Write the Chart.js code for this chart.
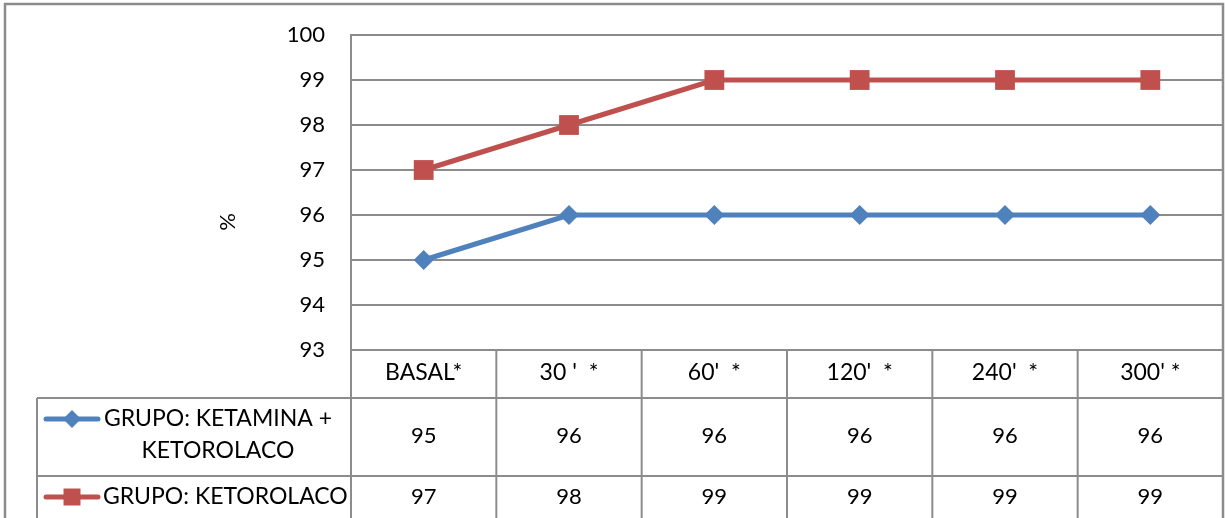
<!DOCTYPE html>
<html>
<head>
<meta charset="utf-8">
<script src="https://cdn.jsdelivr.net/npm/chart.js@4.4.0/dist/chart.umd.min.js"></script>
<style>
  html, body { margin: 0; padding: 0; background: #fff; }
  #wrap { width: 1225px; height: 518px; }
</style>
</head>
<body>
<div id="wrap"><canvas id="c" width="1225" height="518"></canvas></div>
<script>
// Saturación de oxígeno (%) por grupo y tiempo
const categories = ["BASAL*", "30 '  *", "60'  *", "120'  *", "240'  *", "300' *"];
const ketaminaKetorolaco = [95, 96, 96, 96, 96, 96];
const ketorolaco = [97, 98, 99, 99, 99, 99];
const seriesNames = ["GRUPO: KETAMINA + KETOROLACO", "GRUPO: KETOROLACO"];
const yMin = 93;
const yMax = 100;
const yTitle = "%";

const GRID = "#8c8c8c";
const BLUE = "#4F81BD";
const RED = "#C0504D";
const FONT = "22px Lato";
const LABEL_FONT = "23px Lato";

Chart.defaults.font.family = "Lato";
Chart.defaults.font.size = 22;
Chart.defaults.color = "#000";

// Frame, axis title and the data table under the plot
const tablePlugin = {
  id: "dataTable",
  beforeDraw(chart) {
    const ctx = chart.ctx;
    ctx.save();
    ctx.fillStyle = "#fff";
    ctx.fillRect(0, 0, chart.width, chart.height);
    ctx.restore();
  },
  afterDraw(chart) {
    const ctx = chart.ctx;
    const area = chart.chartArea;
    const xs = chart.scales.x;
    const step = xs.getPixelForValue(1) - xs.getPixelForValue(0);
    const headTop = area.bottom;
    const headBot = headTop + 48;
    const rowTops = [headBot, headBot + 78];
    const rowBots = [headBot + 78, headBot + 126];
    const tableLeft = 37;

    ctx.save();
    // outer frame
    ctx.strokeStyle = GRID;
    ctx.lineWidth = 2.5;
    ctx.beginPath();
    ctx.moveTo(5, chart.height + 5);
    ctx.lineTo(5, 4);
    ctx.lineTo(1223, 4);
    ctx.lineTo(1223, chart.height + 5);
    ctx.stroke();

    // table grid
    ctx.lineWidth = 2;
    ctx.beginPath();
    rowTops.forEach(y => { ctx.moveTo(tableLeft, y); ctx.lineTo(area.right, y); });
    ctx.moveTo(tableLeft, headBot); ctx.lineTo(tableLeft, chart.height);
    ctx.moveTo(area.left, headTop); ctx.lineTo(area.left, chart.height);
    for (let i = 1; i < categories.length; i++) {
      const x = xs.getPixelForValue(i) - step / 2;
      ctx.moveTo(x, headTop); ctx.lineTo(x, chart.height);
    }
    ctx.stroke();

    // header labels
    ctx.fillStyle = "#000";
    ctx.font = LABEL_FONT;
    ctx.textAlign = "center";
    ctx.textBaseline = "middle";
    categories.forEach((c, i) => {
      ctx.fillText(c, xs.getPixelForValue(i), (headTop + headBot) / 2 - 1);
    });

    // rows: legend key, name and values
    chart.data.datasets.forEach((ds, r) => {
      const top = rowTops[r];
      const bot = rowBots[r];
      ctx.font = LABEL_FONT;
      const lines = wrapText(ctx, seriesNames[r], 245);
      const lh = 32;
      const firstY = top + 21;
      ctx.fillStyle = "#000";
      ctx.textAlign = "left";
      lines.forEach((ln, k) => {
        const w = ctx.measureText(ln).width;
        const x0 = Math.max(103, 218 - w / 2);
        ctx.fillText(ln, x0, firstY + k * lh);
      });
      ctx.textAlign = "center";

      // key
      ctx.strokeStyle = ds.borderColor;
      ctx.lineWidth = 5;
      ctx.lineCap = "round";
      ctx.beginPath();
      ctx.moveTo(46, firstY);
      ctx.lineTo(98, firstY);
      ctx.stroke();
      ctx.fillStyle = ds.backgroundColor;
      Chart.helpers.drawPoint(ctx, { pointStyle: ds.pointStyle, radius: ds.pointStyle === "rect" ? 12 : 9, rotation: 0, borderWidth: 0 }, 72, firstY);

      // values
      ctx.font = FONT;
      ctx.fillStyle = "#000";
      const cy = r === 0 ? (top + bot) / 2 - 1 : firstY;
      ds.data.forEach((v, i) => ctx.fillText(String(v), xs.getPixelForValue(i), cy));
    });

    // axis title
    ctx.save();
    ctx.translate(228, 222);
    ctx.rotate(-Math.PI / 2);
    ctx.fillStyle = "#000";
    ctx.font = FONT;
    ctx.textAlign = "center";
    ctx.textBaseline = "middle";
    ctx.fillText(yTitle, 0, 0);
    ctx.restore();

    ctx.restore();
  }
};

function wrapText(ctx, text, maxW) {
  const words = text.split(" ");
  const lines = [];
  let cur = "";
  words.forEach(w => {
    const t = cur ? cur + " " + w : w;
    if (ctx.measureText(t).width > maxW && cur) { lines.push(cur); cur = w; }
    else cur = t;
  });
  if (cur) lines.push(cur);
  return lines;
}

new Chart(document.getElementById("c"), {
  type: "line",
  data: {
    labels: categories,
    datasets: [
      {
        label: seriesNames[0],
        data: ketaminaKetorolaco,
        borderColor: BLUE,
        backgroundColor: BLUE,
        borderWidth: 5,
        pointStyle: "rectRot",
        pointRadius: 10,
        pointBorderWidth: 0,
        tension: 0
      },
      {
        label: seriesNames[1],
        data: ketorolaco,
        borderColor: RED,
        backgroundColor: RED,
        borderWidth: 5,
        pointStyle: "rect",
        pointRadius: 14,
        pointBorderWidth: 0,
        tension: 0
      }
    ]
  },
  options: {
    responsive: false,
    animation: false,
    devicePixelRatio: 1,
    layout: { autoPadding: false, padding: { left: 0, top: 35, right: 2, bottom: 168 } },
    plugins: { legend: { display: false }, tooltip: { enabled: false } },
    scales: {
      x: { type: "category", display: false, offset: true },
      y: {
        min: yMin,
        max: yMax,
        ticks: { stepSize: 1, padding: 0, color: "#000", font: { size: 22, family: "Lato" } },
        grid: { color: GRID, lineWidth: 2, drawTicks: true, tickLength: 26, tickColor: "rgba(0,0,0,0)" },
        border: { display: true, color: GRID, width: 2 },
        afterFit(s) { s.width = 351; }
      }
    }
  },
  plugins: [tablePlugin]
});
</script>
</body>
</html>
